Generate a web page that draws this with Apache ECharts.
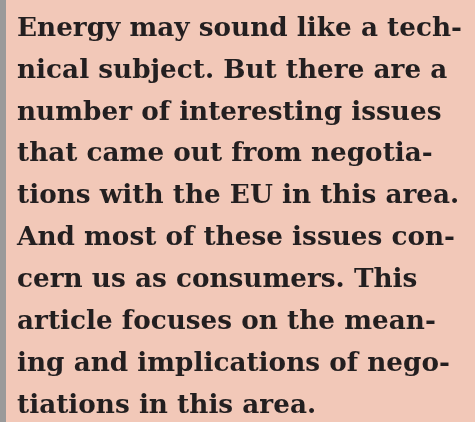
<!DOCTYPE html>
<html>
<head>
<meta charset="utf-8">
<script src="https://cdn.jsdelivr.net/npm/echarts@6/dist/echarts.min.js"></script>
<style>
  html, body { margin: 0; padding: 0; background: #f2c8b8; }
  #main { width: 475px; height: 422px; }
</style>
</head>
<body>
<div id="main"></div>
<script>
// lines of the text box, ragged right as in the picture
var textLines = [
    'Energy may sound like a tech-',
    'nical subject. But there are a',
    'number of interesting issues',
    'that came out from negotia-',
    'tions with the EU in this area.',
    'And most of these issues con-',
    'cern us as consumers. This',
    'article focuses on the mean-',
    'ing and implications of nego-',
    'tiations in this area.'
];

var chart = echarts.init(document.getElementById('main'));

var left = 17;
var firstMid = 29;
var lineStep = 41.9;
var fontSize = 26;
var font = 'bold ' + fontSize + 'px "DejaVu Serif", serif';

// fit the first line to the width it has in the picture
var ctx = document.createElement('canvas').getContext('2d');
ctx.font = font;
var stretch = 445 / ctx.measureText(textLines[0]).width;

var elements = [
    { type: 'rect', shape: { x: 0, y: 0, width: 475, height: 422 }, style: { fill: '#f2c8b8' }, silent: true },
    { type: 'rect', shape: { x: 0, y: 0, width: 6, height: 422 }, style: { fill: '#9a9a9a' }, silent: true }
];

for (var i = 0; i < textLines.length; i++) {
    elements.push({
        type: 'text',
        x: left,
        y: firstMid + i * lineStep,
        scaleX: stretch,
        style: {
            text: textLines[i],
            fill: '#231f20',
            font: font,
            textAlign: 'left',
            textVerticalAlign: 'middle'
        }
    });
}

chart.setOption({
    backgroundColor: '#f2c8b8',
    graphic: { elements: elements }
});
</script>
</body>
</html>
